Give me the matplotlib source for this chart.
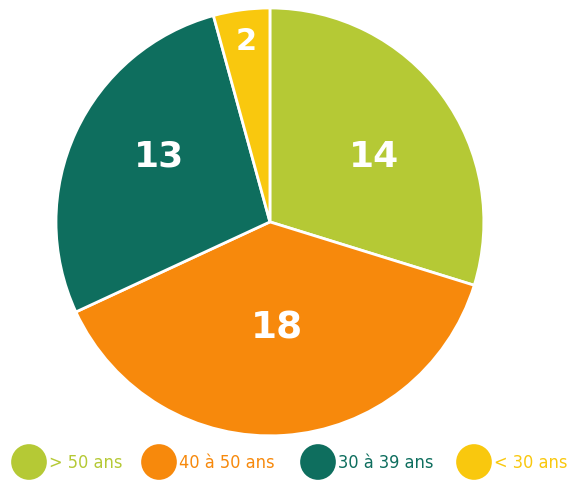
import matplotlib
matplotlib.use("Agg")
import matplotlib.pyplot as plt
import numpy as np

categories = ["> 50 ans", "40 à 50 ans", "30 à 39 ans", "< 30 ans"]
values = [14, 18, 13, 2]
colors = ["#B5C935", "#F7890C", "#0E6E5E", "#F9C80E"]

fig = plt.figure(figsize=(5.72, 4.8), dpi=100)
ax = fig.add_axes([0.0979, 0.0917, 0.748, 0.892])
wedges, _ = ax.pie(values, colors=colors, startangle=90, counterclock=False,
                   wedgeprops=dict(edgecolor="white", linewidth=2))
ax.set_xlim(-1, 1); ax.set_ylim(-1, 1)
ax.set_aspect("equal")

dists = [0.575, 0.5, 0.6, 0.85]
ang_shift = [-4.6, 0, -5.7, 0]
sizes = [26, 27, 26, 22]
for w, v, d, a, s in zip(wedges, values, dists, ang_shift, sizes):
    ang = np.deg2rad((w.theta1 + w.theta2) / 2 + a)
    ax.text(d * np.cos(ang), d * np.sin(ang), str(v), ha="center", va="center",
            color="white", fontsize=s, fontweight="bold", family="DejaVu Sans")

# legend drawn in figure pixel coordinates
lx = [29, 159, 318, 474]
ly = 462
lax = fig.add_axes([0, 0, 1, 1], facecolor="none")
lax.set_xlim(0, 572); lax.set_ylim(480, 0)
lax.axis("off")
for x, c, lab in zip(lx, colors, categories):
    lax.scatter([x], [ly], s=660, color=c, edgecolors="none")
    lax.text(x + 20, ly + 1, lab, color=c, fontsize=13, va="center", ha="left",
             fontstretch="condensed")

fig.savefig("out.png", dpi=100)
